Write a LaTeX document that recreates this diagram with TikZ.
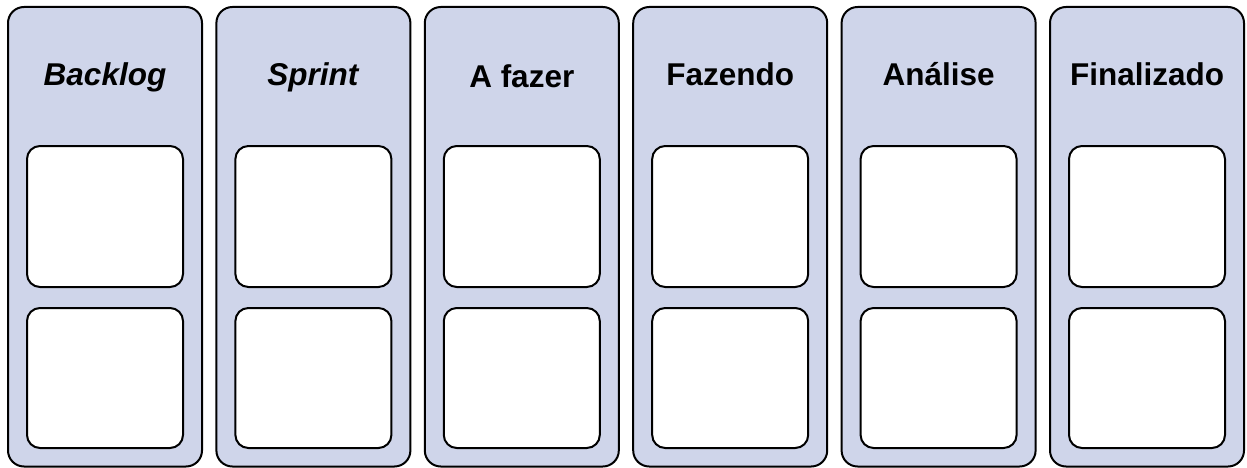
\documentclass[tikz,border=0pt]{standalone}
\usepackage{fontspec}
\setmainfont{Liberation Sans}
\definecolor{colfill}{RGB}{207,213,234}
\begin{document}
\begin{tikzpicture}[x=1pt,y=-1pt,
  column/.style={draw=black,line width=2pt,fill=colfill,rounded corners=16pt},
  card/.style={draw=black,line width=2pt,fill=white,rounded corners=13pt},
  title/.style={font=\fontsize{31.5}{36}\selectfont\bfseries,anchor=base,inner sep=0pt}]
\useasboundingbox (0,0) rectangle (1247,468);
\clip (0,0) rectangle (1247,468);
\foreach \i/\t/\dy in {0/\textit{Backlog}/0,1/\textit{Sprint}/0,2/A fazer/2,3/Fazendo/0,4/Análise/0,5/Finalizado/0}{
  \pgfmathsetmacro{\xl}{8+208.4*\i}
  \draw[column] (\xl,7) rectangle ++(194,459.5);
  \node[card] (c1-\i) at (\xl+97,216.5) [minimum width=156pt,minimum height=141pt] {};
  \node[card] (c2-\i) at (\xl+97,378) [minimum width=156pt,minimum height=140pt] {};
  \node[title] (t-\i) at (\xl+97,86+\dy) {\t};
}
\end{tikzpicture}
\end{document}
